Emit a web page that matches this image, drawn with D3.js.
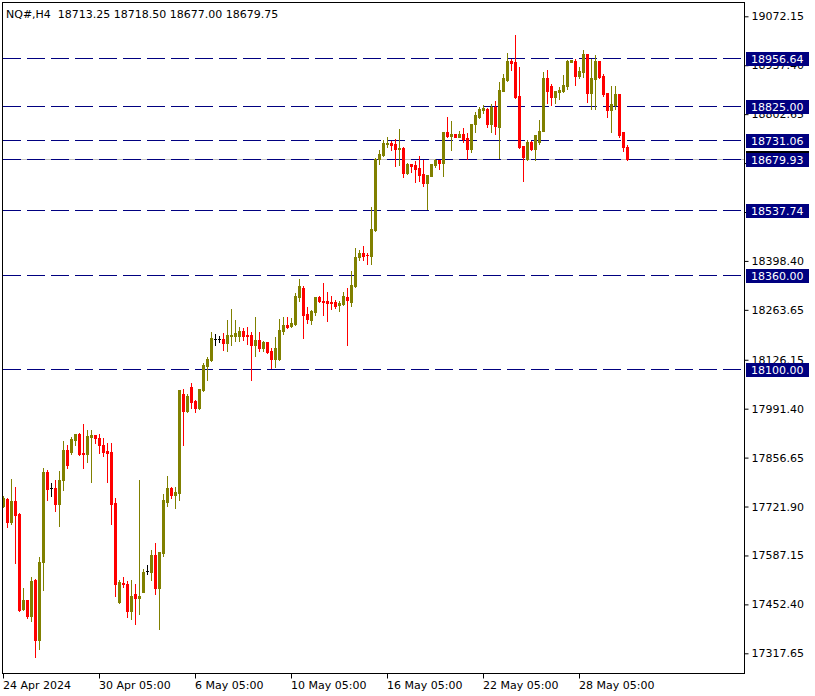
<!DOCTYPE html>
<html><head><meta charset="utf-8">
<script src="https://cdn.jsdelivr.net/npm/d3@7"></script>
<style>html,body{margin:0;padding:0;background:#fff;}svg{display:block;}</style>
</head><body>
<script>
// ---- data ----
const symbol = "NQ#,H4";
const lastOHLC = [18713.25, 18718.50, 18677.00, 18679.75];
const opens = [17722.6,17741.9,17679.3,17736.3,17700.5,17438.8,17463.6,17419.5,17518.7,17353.4,
17568.3,17816.2,17772.0,17772.0,17728.1,17794.2,17876.8,17871.3,17904.3,17920.9,
17868.6,17865.8,17912.6,17918.1,17909.8,17890.6,17874.1,17871.3,17730.8,17458.9,
17511.3,17508.5,17434.1,17480.9,17469.9,17486.4,17544.4,17541.5,17588.3,17497.5,
17593.9,17734.4,17772.9,17753.6,17759.2,18031.9,17985.0,18051.2,18012.6,17993.3,
18043.0,18108.1,18124.6,18182.5,18182.5,18182.5,18171.5,18190.8,18190.8,18190.8,
18204.5,18193.5,18193.5,18166.0,18179.7,18157.7,18174.2,18149.5,18127.4,18127.4,
18204.5,18221.0,18218.3,18223.8,18298.2,18323.0,18251.3,18234.8,18256.8,18298.2,
18287.2,18287.2,18284.4,18284.4,18276.1,18278.9,18298.2,18284.4,18328.5,18409.2,
18419.4,18414.7,18412.1,18482.8,18678.3,18690.1,18720.5,18722.4,18720.2,18705.9,
18708.6,18640.6,18664.5,18661.8,18653.5,18637.0,18613.1,18632.4,18661.8,18676.4,
18668.1,18752.7,18742.5,18747.2,18739.7,18747.2,18736.1,18705.9,18774.7,18794.9,
18814.1,18817.9,18774.7,18822.4,18767.3,18866.4,18895.9,18949.0,18945.4,18851.8,
18714.1,18678.3,18725.9,18705.9,18725.9,18755.4,18901.4,18879.3,18849.9,18863.6,
18865.6,18879.3,18946.3,18948.2,18907.7,18918.7,18968.3,18860.0,18899.5,18948.2,
18907.7,18860.0,18814.1,18827.0,18857.3,18752.7,18713.25];
const highs = [17750.1,17745.4,17796.9,17774.9,17703.3,17496.7,17465.0,17526.9,17521.4,17582.1,
17827.2,17821.7,17785.8,17794.2,17818.9,17901.6,17890.6,17912.6,17920.9,17923.6,
17948.4,17931.9,17931.9,17919.0,17920.9,17909.8,17896.1,17896.1,17744.6,17519.5,
17527.8,17516.8,17519.5,17508.5,17795.0,17550.3,17560.9,17602.2,17621.4,17596.7,
17756.5,17806.0,17775.6,17775.6,18043.0,18045.7,18031.9,18062.2,18015.3,18045.7,
18116.4,18132.9,18201.8,18196.3,18190.8,18199.0,18234.8,18265.1,18234.8,18215.5,
18212.8,18215.5,18201.8,18243.1,18201.8,18177.0,18175.5,18157.7,18188.0,18237.6,
18243.1,18243.1,18240.3,18309.2,18347.7,18328.5,18270.6,18262.3,18298.2,18300.9,
18336.8,18312.0,18300.9,18289.9,18287.2,18312.0,18323.0,18369.8,18433.2,18427.7,
18439.5,18420.2,18546.9,18683.0,18705.0,18730.6,18738.9,18727.9,18733.4,18760.9,
18711.4,18667.3,18665.5,18672.8,18686.6,18676.4,18635.1,18665.4,18678.3,18677.5,
18752.7,18794.0,18783.0,18748.0,18755.4,18763.7,18749.9,18774.7,18807.7,18821.6,
18827.0,18820.7,18829.8,18838.0,18891.2,18912.4,18971.0,18955.6,19019.8,18932.5,
18715.5,18730.6,18727.9,18744.4,18785.7,18917.9,18923.4,18884.9,18866.4,18877.4,
18909.6,18952.9,18953.0,18953.7,18932.5,18979.3,18969.5,18954.5,18964.7,18949.5,
18914.3,18861.0,18879.3,18879.3,18859.2,18753.5,18718.50];
const lows = [17719.8,17665.6,17673.0,17566.4,17435.0,17437.0,17414.0,17405.8,17306.6,17328.6,
17491.2,17739.1,17750.1,17709.6,17667.5,17766.7,17827.2,17865.8,17890.6,17863.1,
17827.2,17843.8,17788.7,17896.1,17868.6,17861.2,17789.5,17673.8,17475.4,17456.2,
17500.3,17417.6,17412.1,17398.3,17425.9,17486.4,17536.1,17519.5,17480.9,17384.5,
17585.7,17723.4,17745.4,17717.9,17739.9,17891.4,17982.3,17993.3,17982.3,17991.0,
18039.4,18069.6,18121.9,18166.0,18174.2,18152.2,18149.5,18166.0,18177.0,18177.0,
18179.7,18168.8,18069.6,18135.7,18149.5,18149.5,18145.0,18102.6,18105.4,18124.6,
18196.3,18212.8,18215.5,18222.0,18287.2,18185.2,18226.6,18223.8,18248.6,18284.4,
18248.6,18232.1,18265.1,18267.9,18259.6,18276.1,18166.0,18273.4,18325.7,18400.1,
18400.1,18391.0,18391.0,18480.0,18664.5,18687.4,18712.2,18703.1,18660.5,18662.5,
18629.6,18637.8,18643.3,18615.8,18618.6,18604.8,18541.4,18631.6,18657.1,18651.6,
18632.4,18739.7,18703.1,18739.7,18738.9,18725.6,18678.3,18697.6,18752.7,18791.3,
18807.1,18767.3,18752.7,18746.7,18681.9,18865.6,18893.9,18923.4,18847.1,18709.4,
18618.5,18677.5,18704.5,18676.4,18720.4,18755.4,18833.3,18827.0,18833.3,18845.5,
18863.6,18871.1,18945.0,18882.1,18903.3,18905.0,18836.1,18817.9,18817.9,18903.3,
18852.6,18794.9,18753.5,18816.0,18739.7,18700.3,18677.00];
const closes = [17746.5,17679.3,17736.3,17697.8,17436.1,17463.6,17419.5,17515.9,17353.4,17568.3,
17816.2,17769.4,17772.0,17728.1,17794.2,17876.8,17835.5,17907.1,17920.9,17865.8,
17865.8,17915.4,17918.1,17909.8,17890.6,17872.2,17869.4,17728.9,17508.5,17514.0,
17509.9,17434.1,17474.6,17469.9,17474.6,17541.5,17544.4,17588.3,17497.5,17596.7,
17739.9,17772.9,17753.6,17761.9,18043.0,17985.0,18026.4,18009.8,17993.3,18045.7,
18110.9,18127.4,18185.2,18182.5,18182.5,18171.5,18193.5,18193.5,18199.0,18204.5,
18190.8,18190.8,18166.0,18179.7,18157.7,18174.2,18146.7,18127.4,18157.7,18207.3,
18221.0,18215.5,18226.6,18300.9,18328.5,18248.6,18237.6,18259.6,18298.2,18287.2,
18284.4,18281.7,18281.7,18273.4,18281.7,18300.9,18289.9,18331.2,18408.4,18420.2,
18412.1,18413.9,18485.2,18680.2,18694.0,18722.4,18723.0,18717.7,18705.9,18708.6,
18640.6,18664.5,18659.0,18651.6,18635.1,18613.1,18634.3,18664.5,18676.4,18668.1,
18752.7,18742.5,18747.2,18739.7,18748.0,18733.4,18705.9,18774.7,18799.5,18815.8,
18819.6,18774.7,18823.5,18770.0,18868.3,18901.4,18949.0,18943.5,18849.9,18712.2,
18684.6,18725.1,18705.9,18744.4,18755.4,18901.4,18866.4,18849.9,18866.4,18868.3,
18882.1,18949.0,18951.8,18907.7,18920.6,18968.3,18860.0,18901.4,18948.2,18905.0,
18858.1,18814.1,18829.8,18857.3,18744.4,18712.2,18679.75];
const priceTicks = [19072.15,18937.40,18802.65,18667.90,18533.15,18398.40,18263.65,18126.15,
17991.40,17856.65,17721.90,17587.15,17452.40,17317.65];
const levels = [18956.64,18825.00,18731.06,18679.93,18537.74,18360.00,18100.00];
const bidPrice = 18679.75;
const dateTickIndex = [0,24,48,72,96,120,144];
const dateTickLabels = ["24 Apr 2024","30 Apr 05:00","6 May 05:00","10 May 05:00","16 May 05:00","22 May 05:00","28 May 05:00"];

// ---- layout ----
const W = 815, H = 696;
const frame = {left: 2, top: 2, right: 744, bottom: 673};
const FONT = "'DejaVu Sans', Tahoma, sans-serif";
const bullColor = "#808000", bearColor = "#ff0000", dojiColor = "#000000";
const levelColor = "#000080";

const svg = d3.select("body").append("svg").attr("width", W).attr("height", H)
  .style("font-family", FONT).style("font-size", "11px");

const x = d3.scaleLinear().domain([0, 156]).range([3, 627]);
const y = d3.scaleLinear().domain([17317.65, 19072.15]).range([653.3, 16.3]);
const ry = v => Math.round(y(v));

const bars = opens.map((o, i) => ({i, o, h: highs[i], l: lows[i], c: closes[i]}));

// bid line (grey, solid)
svg.append("line").attr("x1", frame.left + 1).attr("x2", frame.right)
  .attr("y1", ry(bidPrice) + 0.5).attr("y2", ry(bidPrice) + 0.5)
  .attr("stroke", "#c0c0c0").attr("stroke-width", 1);

// level lines
svg.append("g").selectAll("line").data(levels).join("line")
  .attr("x1", 3).attr("x2", frame.right)
  .attr("y1", d => ry(d) + 0.5).attr("y2", d => ry(d) + 0.5)
  .attr("stroke", levelColor).attr("stroke-width", 1)
  .attr("stroke-dasharray", "18,6");

// candles
const g = svg.append("g").attr("shape-rendering", "crispEdges");
const col = d => d.c > d.o ? bullColor : (d.c < d.o ? bearColor : dojiColor);
g.selectAll("rect.wick").data(bars).join("rect").attr("class", "wick")
  .attr("x", d => Math.round(x(d.i)))
  .attr("y", d => ry(d.h))
  .attr("width", 1)
  .attr("height", d => Math.max(1, ry(d.l) - ry(d.h) + 1))
  .attr("fill", col);
g.selectAll("rect.body").data(bars).join("rect").attr("class", "body")
  .attr("x", d => Math.round(x(d.i)) - 1)
  .attr("y", d => ry(Math.max(d.o, d.c)))
  .attr("width", 3)
  .attr("height", d => Math.max(1, ry(Math.min(d.o, d.c)) - ry(Math.max(d.o, d.c)) + 1))
  .attr("fill", col);

// frame
svg.append("rect").attr("x", frame.left + 0.5).attr("y", frame.top + 0.5)
  .attr("width", frame.right - frame.left).attr("height", frame.bottom - frame.top)
  .attr("fill", "none").attr("stroke", "#000").attr("stroke-width", 1);

// price axis
const yAxis = d3.axisRight(y).tickValues(priceTicks).tickSize(4).tickPadding(2)
  .tickFormat(d => d.toFixed(2));
const ya = svg.append("g").attr("transform", `translate(${frame.right + 0.5},0)`).call(yAxis);
ya.select(".domain").remove();
ya.selectAll(".tick line").attr("stroke", "#000");
ya.selectAll(".tick text").attr("font-family", FONT).attr("font-size", "11px").attr("fill", "#000")
  .attr("x", 7);

// level labels
const lab = svg.append("g");
// current price (black) box just behind the 18679.93 label
lab.append("rect").attr("x", 746).attr("y", ry(bidPrice) - 8).attr("width", 63).attr("height", 15).attr("fill", "#000");
levels.forEach(v => {
  const yy = ry(v);
  lab.append("rect").attr("x", 746).attr("y", yy - 6).attr("width", 63).attr("height", 14).attr("fill", levelColor);
  lab.append("text").attr("x", 751).attr("y", yy + 1).attr("dy", "0.32em")
    .attr("fill", "#fff").attr("font-size", "11px").text(v.toFixed(2));
});

// time axis
const xa = svg.append("g").attr("transform", `translate(0,${frame.bottom + 0.5})`);
dateTickIndex.forEach((idx, k) => {
  const xx = Math.round(x(idx)) + 0.5;
  xa.append("line").attr("x1", xx).attr("x2", xx).attr("y1", 0).attr("y2", 5).attr("stroke", "#000");
  xa.append("text").attr("x", xx - 0.5).attr("y", 15).attr("fill", "#000").text(dateTickLabels[k]);
});

// header
svg.append("text").attr("x", 6).attr("y", 18).attr("fill", "#000")
  .attr("xml:space", "preserve").style("white-space", "pre")
  .text(`${symbol}  ${lastOHLC.map(v => v.toFixed(2)).join(" ")}`);
</script>
</body></html>
